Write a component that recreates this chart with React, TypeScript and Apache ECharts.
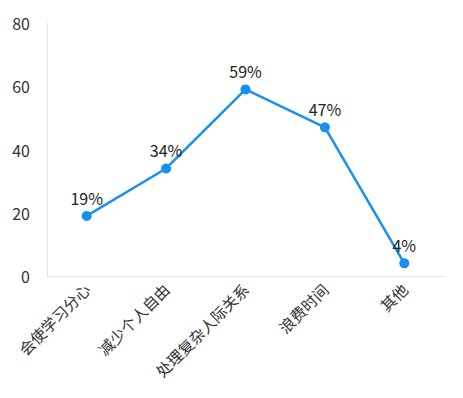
import React, { useEffect, useRef } from "react";
import * as echarts from "echarts";

const categories = ["会使学习分心", "减少个人自由", "处理复杂人际关系", "浪费时间", "其他"];
const values = [19, 34, 59, 47, 4];
const yTicks = { min: 0, max: 80, interval: 20 };

export default function App() {
  const ref = useRef<HTMLDivElement>(null);
  useEffect(() => {
    const chart = echarts.init(ref.current!, null, { renderer: "svg" });
    chart.setOption({
      animation: false,
      textStyle: { fontFamily: "'Noto Sans CJK SC', 'Noto Sans', sans-serif" },
      grid: { left: 47, right: 19, top: 23, bottom: 122, containLabel: false },
      xAxis: {
        type: "category",
        data: categories,
        boundaryGap: true,
        axisLine: { show: true, lineStyle: { color: "#dfe5f0", width: 1 } },
        axisTick: { show: false },
        axisLabel: { rotate: 45, color: "#333", fontSize: 15.5, margin: 10, interval: 0 },
      },
      yAxis: {
        type: "value",
        min: yTicks.min,
        max: yTicks.max,
        interval: yTicks.interval,
        axisLine: { show: true, lineStyle: { color: "#dfe5f0", width: 1 } },
        axisTick: { show: false },
        splitLine: { show: false },
        axisLabel: { color: "#333", fontSize: 16, margin: 17 },
      },
      series: [
        {
          type: "line",
          data: values,
          symbol: "circle",
          symbolSize: 10,
          itemStyle: { color: "#1890f0" },
          lineStyle: { color: "#1890f0", width: 2.5 },
          label: {
            show: true,
            position: "top",
            formatter: "{c}%",
            color: "#222",
            fontSize: 16,
            distance: 5,
          },
        },
      ],
    });
    return () => chart.dispose();
  }, []);
  return (
    <div
      ref={ref}
      style={{ position: "absolute", left: 0, top: 0, width: 463, height: 398 }}
    />
  );
}
